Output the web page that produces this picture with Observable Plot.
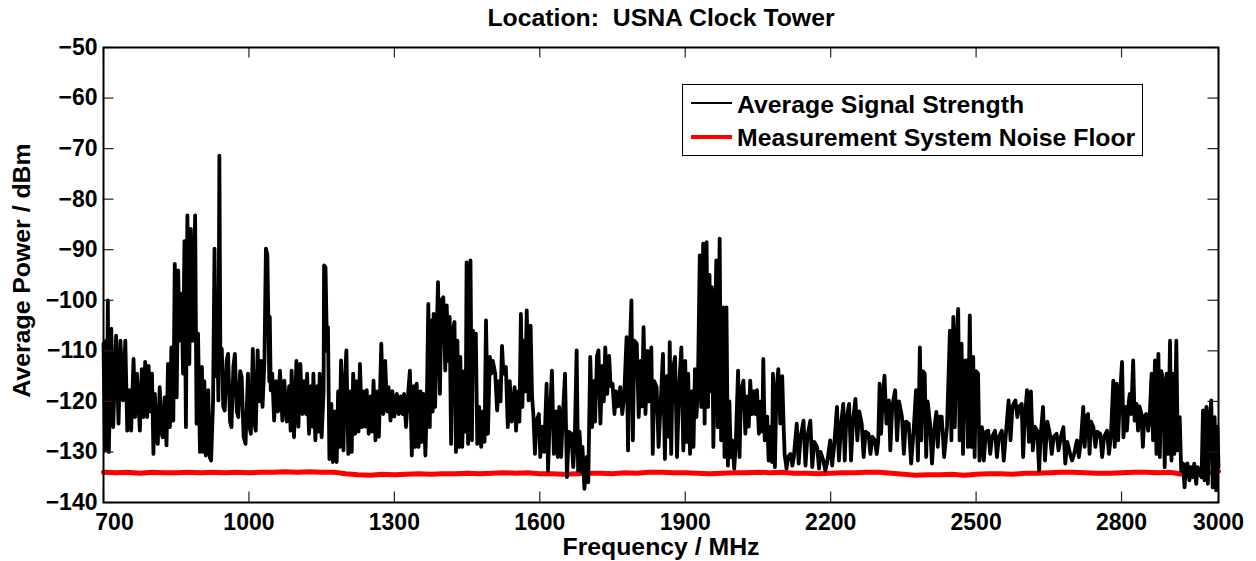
<!DOCTYPE html>
<html><head><meta charset="utf-8">
<script src="https://cdn.jsdelivr.net/npm/d3@7"></script>
<script src="https://cdn.jsdelivr.net/npm/@observablehq/plot@0.6"></script>
<style>
body{margin:0;background:#fff;}
#wrap{position:relative;width:1256px;height:561px;}
#legend{position:absolute;left:682px;top:84px;width:461px;height:72px;border:1.3px solid #000;background:#fff;box-sizing:border-box;}
#legend svg{position:absolute;left:-1.3px;top:-1.3px;overflow:visible;}
</style>
</head><body>
<div id="wrap"><div id="legend"></div></div>
<script>
const FONT = "'Liberation Sans', Arial, Helvetica, sans-serif";
const titleText = "Location:\u00a0 USNA Clock Tower";
const xLabel = "Frequency / MHz";
const yLabel = "Average Power / dBm";
const seriesNames = ["Average Signal Strength", "Measurement System Noise Floor"];
const seriesColors = ["#000000", "#ff0000"];
const xTicks = [700, 1000, 1300, 1600, 1900, 2200, 2500, 2800, 3000];
const yTicks = [-140, -130, -120, -110, -100, -90, -80, -70, -60, -50];

// [frequency MHz, average power dBm]
const signal = [
[700,-108.6],[703,-129.7],[705,-108],[707,-127],[709,-100],[711,-130],
[716,-105.6],[720,-125.1],[726,-107],[731,-124.4],[735,-108],[740,-119.8],
[745,-108],[749,-125.8],[753,-117.8],[757,-125.8],[762,-111.6],[765,-123.1],
[769,-114.5],[775,-125.8],[779,-113.6],[782,-123.1],[786,-112.2],[790,-123.1],
[793,-113],[797,-122],[800,-114.5],[803,-130.4],[806,-118.5],[809,-127],[812,-128.4],
[816,-117.2],[819,-126],[822,-127.1],[826,-119.2],[830,-128.7],[833,-112.6],[837,-125.1],
[840,-109.3],[844,-123.8],[847,-92.8],[851,-119.2],[854,-94.1],[857,-108],
[861,-98.7],[864,-114.5],[867,-88.3],[870,-125.1],[873,-83.2],[877,-112.6],
[880,-85.9],[884,-108],[889,-83.2],[892,-124.4],[895,-106.6],[899,-130],
[903,-113.2],[906,-130],[908,-116],[911,-130.7],[916,-117.8],[919,-131],[922,-131.7],
[926,-120],[929,-89.8],[932,-115],[934,-104],[937,-119.8],[939,-71.4],[941,-110],
[944,-109.6],[947,-121],[950,-121.8],[954,-112],[957,-110.6],[961,-124],[964,-125.1],
[968,-113],[971,-110.6],[975,-122],[978,-123.1],[982,-114],[985,-115.2],[989,-127],[993,-128.4],
[998,-114.5],[1001,-125],[1004,-126.4],[1008,-109.6],[1011,-124],[1014,-125.8],
[1018,-109.9],[1022,-120],[1025,-112],[1028,-121.1],[1032,-112],[1035,-89.8],[1038,-91],[1042,-116],
[1043,-103.3],[1045,-117.8],[1048,-114.5],[1052,-123.8],[1056,-116],[1060,-122],
[1064,-113.9],[1069,-123.8],[1073,-115.9],[1078,-124],[1083,-117],[1086,-125.8],
[1088,-113.9],[1093,-127.1],[1098,-112],[1102,-125],[1106,-112.6],[1110,-122.5],[1114,-116],[1118,-122.5],
[1120,-114.5],[1124,-126.4],[1128,-117],[1131,-125],[1133,-114.5],[1137,-127.7],[1141,-117],[1144,-126],
[1146,-114.5],[1150,-127.1],[1154,-118],[1155,-93.1],[1158,-93.5],[1161,-110],[1163,-105.3],[1166,-131.4],
[1170,-120.5],[1173,-132],[1177,-122],[1181,-132],[1184,-118],[1187,-129],[1190,-111.9],[1195,-129.7],
[1198,-116],[1201,-109.9],[1205,-130.4],[1209,-118],[1212,-130],[1215,-114.5],[1219,-126.4],[1222,-116],
[1226,-126],[1229,-112.6],[1233,-125.1],[1237,-118],[1240,-125],[1243,-117.8],[1247,-126.4],[1251,-119],
[1254,-126],[1257,-115.9],[1261,-127.7],[1264,-118],[1268,-127],[1273,-108.6],[1277,-122.5],[1281,-112],
[1285,-122],[1288,-117.2],[1292,-123.8],[1296,-118],[1300,-123],[1305,-118.5],[1309,-122.5],[1313,-119],
[1317,-122.5],[1320,-118.5],[1324,-125.1],[1328,-119],[1332,-113.9],[1336,-130.7],[1340,-117],[1343,-129],
[1346,-116.5],[1350,-129],[1354,-118],[1357,-128],[1360,-118.5],[1364,-130.7],[1367,-120],[1370,-100.7],
[1373,-125.1],[1376,-104],[1379,-122],[1381,-102.7],[1384,-121.1],[1388,-104],[1390,-96.4],[1394,-118.5],
[1397,-100],[1401,-99.4],[1405,-113.9],[1408,-101],[1411,-112],[1414,-103.3],[1417,-128.4],[1420,-106],
[1424,-104.3],[1427,-130],[1430,-108],[1433,-129],[1436,-111.2],[1440,-129],[1444,-114],[1447,-126],
[1449,-92.5],[1452,-128.4],[1455,-105],[1457,-92.1],[1460,-127.7],[1462,-106],[1465,-111.9],
[1468,-106.6],[1471,-128.4],[1475,-121.1],[1479,-129],[1483,-122],[1486,-128],[1489,-104],[1493,-126.4],
[1497,-111.2],[1500,-114.5],[1503,-112],[1508,-114.5],[1512,-121.8],[1516,-116],[1519,-120],[1522,-109],
[1525,-114.5],[1530,-113.2],[1534,-125.1],[1538,-116],[1542,-124],[1548,-117.2],[1551,-125.8],[1555,-118],
[1558,-124],[1561,-102.7],[1564,-121.1],[1567,-108],[1570,-118],[1573,-102],[1577,-119.8],[1581,-105],
[1584,-119],[1587,-123],[1590,-130.4],[1593,-124],[1598,-122.5],[1601,-131],[1605,-125],[1609,-130],
[1614,-116.5],[1617,-133.7],[1620,-125],[1625,-113.9],[1629,-130.4],[1633,-122],[1637,-131],[1640,-121.1],
[1644,-131],[1647,-124],[1652,-114.5],[1656,-135],[1660,-126],[1665,-126.4],[1669,-133],[1672,-128],
[1676,-109.9],[1679,-133.7],[1682,-126],[1686,-134],[1688,-129],[1692,-137.3],[1697,-131],[1700,-136],
[1704,-111.2],[1708,-125.1],[1711,-116],[1714,-124],[1718,-111],[1721,-109.9],[1725,-124.4],[1729,-113],
[1732,-120],[1735,-109.3],[1739,-118.5],[1743,-111],[1746,-117],[1750,-116.5],[1754,-122.5],[1757,-118],
[1761,-121],[1766,-117.2],[1770,-122.5],[1774,-119],[1779,-107.3],[1782,-129.7],[1785,-112],[1789,-100],
[1792,-127.7],[1795,-108],[1800,-108.6],[1804,-123.1],[1808,-112],[1811,-121],[1814,-105.3],[1818,-122.5],
[1822,-110],[1825,-120],[1830,-109.3],[1833,-130.4],[1836,-116],
[1841,-117.2],[1845,-129],[1850,-119],[1854,-110.6],[1858,-131.4],[1862,-115],[1866,-127],[1868,-108.3],
[1871,-130.4],[1874,-114],[1879,-111.2],[1883,-131],[1888,-116],[1892,-109.3],[1896,-129.7],[1900,-112],
[1903,-128],[1906,-114.5],[1910,-130.4],[1914,-118],[1917,-129],[1920,-113.6],[1923,-123.1],[1926,-118],
[1930,-91.1],[1933,-121.1],[1937,-88.8],[1940,-124.4],[1944,-88.5],[1947,-121.1],[1950,-95],[1953,-118],
[1955,-97.4],[1958,-129],[1961,-110],[1964,-92.1],[1967,-125.1],[1971,-87.8],[1974,-127.7],[1978,-101.4],
[1981,-131],[1985,-101.4],[1988,-132.7],[1991,-120],[1994,-131],[1997,-127.7],[2001,-133.3],[2004,-129],
[2009,-113.9],[2012,-131],[2015,-118],[2020,-115.9],[2024,-126.4],[2028,-119],[2031,-125],[2034,-115.9],
[2038,-122.5],[2042,-118],[2045,-122.5],[2048,-117.8],[2052,-126.4],[2056,-120],[2059,-126],[2061,-111.6],
[2064,-127.7],[2069,-123],[2072,-131.7],[2076,-125],[2079,-132],[2081,-114.5],[2085,-133],[2088,-118],
[2092,-113.6],[2096,-124.4],[2100,-115],[2103,-125],[2105,-130.4],[2109,-133.3],[2112,-131],[2117,-130.4],
[2121,-132.7],[2124,-131],[2130,-124.4],[2134,-132.3],[2138,-127],[2144,-123.8],[2148,-132.7],[2152,-127],
[2158,-123.8],[2162,-133],[2166,-128],[2172,-129],[2176,-133.3],[2179,-130],[2185,-131.7],[2189,-133.7],
[2193,-132],[2199,-127.7],[2203,-132.7],[2207,-129],[2213,-121.1],[2217,-131.7],[2222,-124],
[2226,-120.5],[2229,-131.7],[2232,-124],[2238,-120.5],[2242,-131.7],[2246,-124],[2251,-119.5],[2255,-127.7],
[2259,-122],[2264,-124.4],[2268,-131],[2272,-126],[2278,-126.4],[2282,-130.4],[2286,-127],[2291,-127.7],
[2295,-130.4],[2298,-128],[2301,-116.5],[2304,-126.4],[2307,-120],[2311,-114.9],[2315,-124.4],[2320,-119.8],
[2323,-129.7],[2327,-121],[2333,-117.8],[2337,-127.7],[2341,-120],[2347,-123],[2351,-130.4],[2355,-124],
[2361,-124.4],[2366,-132.3],[2371,-126],[2376,-117.8],[2380,-131.7],[2384,-109.3],[2387,-127.7],[2390,-114],
[2394,-114.5],[2397,-131],[2400,-120],[2405,-124.4],[2409,-132.3],[2413,-126],[2418,-122.1],[2421,-129],
[2424,-123],[2429,-123],[2434,-131],[2440,-125],[2446,-106],[2449,-127.7],[2453,-103.3],[2456,-125.1],
[2460,-108],[2463,-101.7],[2466,-127.7],[2470,-108.6],[2473,-130.4],[2476,-112],[2480,-111.9],[2483,-129],
[2487,-103],[2490,-129],[2494,-111.2],[2497,-131],[2500,-114],[2504,-114.5],[2507,-131.7],[2512,-125.1],
[2516,-131.7],[2520,-126],[2525,-125.8],[2529,-130.4],[2533,-127],[2539,-125.8],[2543,-131],[2547,-127],
[2553,-125.8],[2557,-131.7],[2561,-127],[2567,-119.8],[2571,-127.7],[2575,-121],[2581,-119.8],[2585,-123.1],
[2589,-121],[2594,-120.5],[2597,-131],[2600,-124],
[2605,-117.8],[2609,-128],[2613,-118],[2617,-129.7],[2621,-125],[2626,-125.8],[2630,-133.7],[2633,-127],
[2638,-121.1],[2642,-131.7],[2647,-124],[2652,-126.4],[2656,-130.4],[2660,-127],[2666,-126.4],[2670,-129.7],
[2675,-127],[2680,-125.1],[2684,-132.3],[2688,-128],[2694,-130.4],[2698,-131.7],[2702,-130.5],[2708,-127.7],
[2712,-131],[2716,-128],[2721,-121.1],[2724,-129],[2727,-123],[2731,-122.5],[2734,-130.4],[2737,-124],
[2742,-125.1],[2746,-129],[2750,-126],[2756,-126.4],[2760,-131],[2764,-127],[2770,-125.8],[2774,-130.4],
[2778,-127],[2783,-115.9],[2786,-129],[2790,-116.5],[2793,-127.7],[2796,-120],[2801,-112.2],[2804,-127.1],
[2808,-121.1],[2811,-125.8],[2815,-120],[2817,-118.5],[2820,-122.5],[2824,-111.9],[2827,-123.8],[2831,-120.5],
[2834,-125.8],[2837,-121],[2841,-122.5],[2844,-129],[2847,-123],[2851,-122.5],[2855,-125.8],[2858,-123],
[2862,-114.5],[2865,-127.7],[2869,-111.9],[2872,-130.4],[2876,-110.6],[2879,-131],[2882,-114],[2886,-115.9],
[2889,-133],[2893,-114.5],[2896,-130.4],[2900,-108],[2903,-131.7],[2906,-114.5],[2909,-130.4],[2913,-108],
[2916,-129.7],[2920,-123.1],[2923,-133.7],[2927,-132.3],[2930,-137],[2933,-132.5],[2936,-132.3],[2940,-135.6],
[2943,-133],[2947,-135],[2950,-132.3],[2954,-136.3],[2957,-133],[2962,-134.3],[2965,-135],[2968,-121.8],
[2971,-135.6],[2975,-121.1],[2978,-136.3],[2981,-124],[2985,-119.8],[2988,-137],[2992,-123.1],[2995,-137.6],
[2998,-125],[3000,-133]
];

// [frequency MHz, noise floor dBm]
const noise = [
[700,-134.0],[725,-134.1],[750,-134.0],[775,-134.2],[800,-134.0],[825,-134.1],[850,-134.1],[875,-134.0],
[900,-134.1],[925,-134.0],[950,-134.1],[975,-134.0],[1000,-134.1],[1025,-134.0],[1050,-134.0],[1075,-133.9],
[1100,-134.0],[1125,-133.9],[1150,-134.0],[1175,-134.0],[1200,-134.3],[1225,-134.5],[1250,-134.6],[1275,-134.4],
[1300,-134.5],[1325,-134.4],[1350,-134.3],[1375,-134.4],[1400,-134.3],[1425,-134.3],[1450,-134.2],[1475,-134.3],
[1500,-134.2],[1525,-134.1],[1550,-134.2],[1575,-134.1],[1600,-134.3],[1625,-134.3],[1650,-134.4],[1675,-134.3],
[1700,-134.2],[1725,-134.2],[1750,-134.3],[1775,-134.1],[1800,-134.2],[1825,-134.0],[1850,-134.0],[1875,-134.1],
[1900,-134.1],[1925,-134.2],[1950,-134.3],[1975,-134.2],[2000,-134.1],[2025,-134.1],[2050,-134.0],[2075,-134.1],
[2100,-134.0],[2125,-134.2],[2150,-134.2],[2175,-134.3],[2200,-134.2],[2225,-134.1],[2250,-134.1],[2275,-134.0],
[2300,-134.0],[2325,-134.2],[2350,-134.4],[2375,-134.6],[2400,-134.5],[2425,-134.5],[2450,-134.4],[2475,-134.6],
[2500,-134.4],[2525,-134.3],[2550,-134.3],[2575,-134.4],[2600,-134.2],[2625,-134.2],[2650,-134.1],[2675,-134.0],
[2700,-134.0],[2725,-134.1],[2750,-134.2],[2775,-134.2],[2800,-134.1],[2825,-134.0],[2850,-134.0],[2875,-134.1],
[2900,-134.0],[2925,-134.4],[2940,-134.7],[2955,-134.3],[2970,-134.5],[2985,-134.0],[3000,-133.8]
];

const W = 1256, H = 561, ML = 103, MR = 38, MT = 47, MB = 59;
const innerW = W - ML - MR, innerH = H - MT - MB, TICK = 10.5;
const fmt = d => d < 0 ? "\u2212" + Math.abs(d) : String(d);
const axisStyle = {tickSize: 0, label: null, tickFormat: fmt, fontSize: 23, fontWeight: "bold"};

const plot = Plot.plot({
  width: W, height: H,
  marginLeft: ML, marginRight: MR, marginTop: MT, marginBottom: MB,
  x: {domain: [700, 3000]},
  y: {domain: [-140, -50]},
  style: {fontFamily: FONT, fontWeight: "bold", fontSize: "23px", color: "#000", background: "#fff", overflow: "visible"},
  marks: [
    Plot.line(noise, {x: d => d[0], y: d => d[1], stroke: seriesColors[1], strokeWidth: 5}),
    Plot.line(signal, {x: d => d[0], y: d => d[1], stroke: seriesColors[0], strokeWidth: 3.8, strokeLinejoin: "round"}),
    Plot.ruleX(xTicks, {x: d => d, insetTop: innerH - TICK, stroke: "#222", strokeWidth: 1.2}),
    Plot.ruleX(xTicks, {x: d => d, insetBottom: innerH - TICK, stroke: "#222", strokeWidth: 1.2}),
    Plot.ruleY(yTicks, {y: d => d, insetRight: innerW - TICK, stroke: "#222", strokeWidth: 1.2}),
    Plot.ruleY(yTicks, {y: d => d, insetLeft: innerW - TICK, stroke: "#222", strokeWidth: 1.2}),
    Plot.frame({stroke: "#000", strokeWidth: 2}),
    Plot.axisX({...axisStyle, ticks: xTicks.slice(1), tickPadding: 11}),
    Plot.text(xTicks.slice(0, 1), {x: d => d, text: fmt, frameAnchor: "bottom", lineAnchor: "top", textAnchor: "middle", dy: 11, dx: 11, fontSize: 23, fontWeight: "bold", fill: "#000"}),
    Plot.axisY({...axisStyle, ticks: yTicks, tickPadding: 6}),
    Plot.text([titleText], {text: d => d, frameAnchor: "top", lineAnchor: "middle", textAnchor: "middle", dy: -29, fontSize: 24.8, fontWeight: "bold", fill: "#000"}),
    Plot.text([xLabel], {text: d => d, frameAnchor: "bottom", lineAnchor: "middle", textAnchor: "middle", dy: 44.5, fontSize: 24.8, fontWeight: "bold", fill: "#000"}),
    Plot.text([yLabel], {text: d => d, frameAnchor: "left", lineAnchor: "middle", textAnchor: "middle", dx: -81, dy: -4.5, rotate: -90, fontSize: 24.8, fontWeight: "bold", fill: "#000"})
  ]
});
const wrap = document.getElementById("wrap");
wrap.insertBefore(plot, wrap.firstChild);

// legend
const lg = d3.select("#legend").append("svg").attr("width", 461).attr("height", 72)
  .style("font-family", FONT).style("font-weight", "bold").style("font-size", "24.8px");
const rows = [{y: 19, ty: 28.7, w: 2.2}, {y: 53, ty: 62, w: 4.2}];
seriesNames.forEach((name, i) => {
  lg.append("line").attr("x1", 9).attr("x2", 50).attr("y1", rows[i].y).attr("y2", rows[i].y)
    .attr("stroke", seriesColors[i]).attr("stroke-width", rows[i].w);
  lg.append("text").attr("x", 55).attr("y", rows[i].ty).attr("fill", "#000").text(name);
});
</script>
</body></html>
